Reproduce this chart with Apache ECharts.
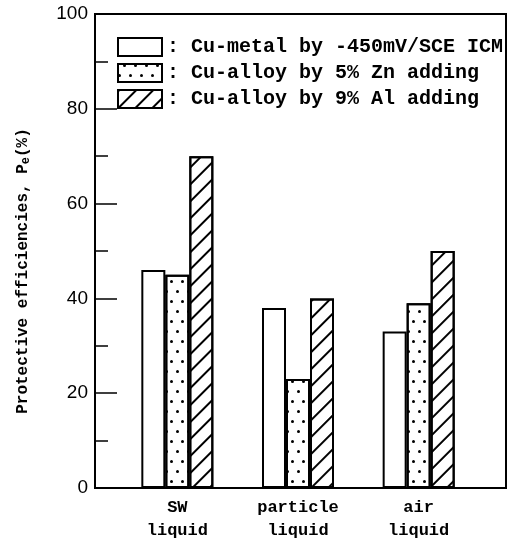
<!DOCTYPE html>
<html>
<head>
    <meta charset="utf-8">
    <script src="https://cdn.jsdelivr.net/npm/echarts@6/dist/echarts.min.js"></script>
</head>
<body style="margin:0;background:#fff">
<div id="main" style="width:512px;height:544px"></div>
<script type="text/javascript">
// 数据
var categories = ['SW\nliquid', 'particle\nliquid', 'air\nliquid'];
var seriesNames = ['Cu-metal by -450mV/SCE ICM', 'Cu-alloy by 5% Zn adding', 'Cu-alloy by 9% Al adding'];
var cuMetal = [46, 38, 33];
var cuZn = [45, 23, 39];
var cuAl = [70, 40, 50];
var yTicks = [0, 20, 40, 60, 80, 100];

var mono = '"Liberation Mono", "DejaVu Sans Mono", monospace';

var dotDecal = {
    symbol: 'circle',
    symbolSize: 1,
    color: '#000',
    dashArrayX: [[3, 8], [0, 5, 3, 3]],
    dashArrayY: [3, 7],
    rotation: 0
};
var hatchDecal = {
    symbol: 'rect',
    symbolSize: 1,
    color: '#000',
    dashArrayX: [1, 0],
    dashArrayY: [2, 10],
    rotation: -Math.PI / 4
};

var myChart = echarts.init(document.getElementById('main'));

var barBase = {
    type: 'bar',
    xAxisIndex: 1,
    yAxisIndex: 1,
    barWidth: 24,
    barGap: '0%'
};

var option = {
    backgroundColor: '#fff',
    animation: false,
    grid: [
        // 外框
        {left: 95, right: 6, top: 14, bottom: 56, show: true, borderColor: '#000', borderWidth: 2, backgroundColor: 'transparent'},
        // 柱子
        {left: 117, right: 33, top: 14, bottom: 56}
    ],
    legend: {
        orient: 'vertical',
        left: 117,
        top: 37,
        padding: 0,
        icon: 'rect',
        itemWidth: 44,
        itemHeight: 18,
        itemGap: 6,
        selectedMode: false,
        formatter: function (name) { return ': ' + name; },
        textStyle: {fontFamily: mono, fontSize: 20, color: '#000', fontWeight: 'bold'},
        data: seriesNames
    },
    xAxis: [
        {gridIndex: 0, type: 'value', show: false, min: 0, max: 1},
        {
            gridIndex: 1,
            type: 'category',
            data: categories,
            axisLine: {show: false},
            axisTick: {show: false},
            axisLabel: {fontFamily: mono, fontSize: 17, color: '#000', fontWeight: 'bold', lineHeight: 23, margin: 8}
        }
    ],
    yAxis: [
        {
            gridIndex: 0,
            type: 'value',
            min: yTicks[0],
            max: yTicks[yTicks.length - 1],
            interval: 20,
            name: 'Protective efficiencies, P{sub|e}(%)',
            nameLocation: 'middle',
            nameGap: 63,
            nameTextStyle: {
                fontFamily: mono, fontSize: 16, color: '#000', fontWeight: 'bold',
                padding: [0, 40, 0, 0],
                rich: {sub: {fontFamily: mono, fontSize: 12, color: '#000', fontWeight: 'bold', verticalAlign: 'bottom', padding: [6, 0, 0, 0]}}
            },
            axisLine: {show: true, lineStyle: {color: '#000', width: 2}},
            axisTick: {show: true, inside: true, length: 22, lineStyle: {color: '#000', width: 1.5}},
            minorTick: {show: true, splitNumber: 2, length: 13, lineStyle: {color: '#000', width: 1.5}},
            splitLine: {show: false},
            axisLabel: {fontFamily: '"Liberation Sans", Arial, sans-serif', fontSize: 19, color: '#000', margin: 7}
        },
        {gridIndex: 1, type: 'value', show: false, min: 0, max: 100}
    ],
    series: [
        Object.assign({}, barBase, {
            name: seriesNames[0], data: cuMetal,
            itemStyle: {color: '#fff', borderColor: '#000', borderWidth: 2}
        }),
        Object.assign({}, barBase, {
            name: seriesNames[1], data: cuZn,
            itemStyle: {color: '#fff', borderColor: '#000', borderWidth: 2, decal: dotDecal}
        }),
        Object.assign({}, barBase, {
            name: seriesNames[2], data: cuAl,
            itemStyle: {color: '#fff', borderColor: '#000', borderWidth: 2, decal: hatchDecal}
        })
    ]
};

myChart.setOption(option);
</script>
</body>
</html>
